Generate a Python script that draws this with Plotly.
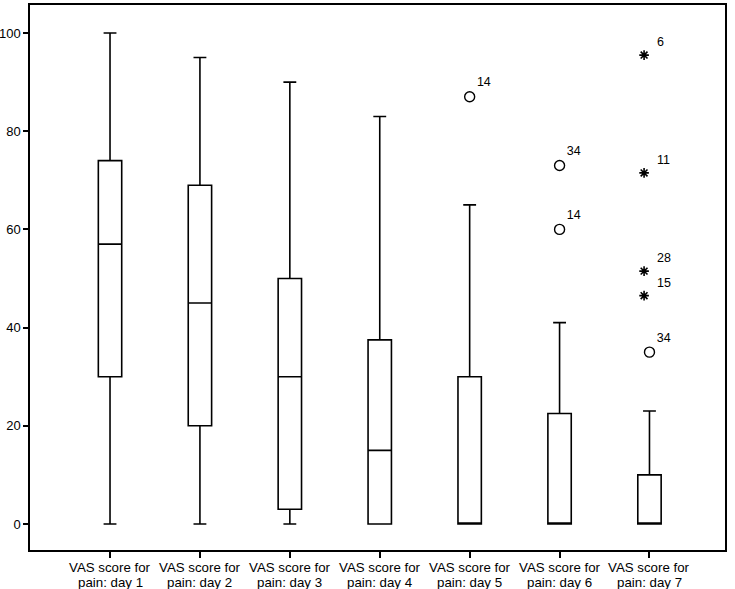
import plotly.graph_objects as go

# box summary per day
day_line1 = ["VAS score for"] * 7
day_line2 = ["pain: day 1", "pain: day 2", "pain: day 3", "pain: day 4",
             "pain: day 5", "pain: day 6", "pain: day 7"]
lower = [0, 0, 0, 0, 0, 0, 0]
q1 = [30, 20, 3, 0, 0, 0, 0]
median = [57, 45, 30, 15, 0, 0, 0]
q3 = [74, 69, 50, 37.5, 30, 22.5, 10]
upper = [100, 95, 90, 83, 65, 41, 23]

# outliers (circles) and extremes (asterisks): day index, value, case id
out_day = [4, 5, 5, 6]
out_val = [87, 73, 60, 35]
out_id = ["14", "34", "14", "34"]
ext_day = [6, 6, 6, 6]
ext_val = [95.5, 71.5, 51.5, 46.5]
ext_id = ["6", "11", "28", "15"]

fig = go.Figure()

for i in range(len(day_line2)):
    fig.add_trace(go.Box(
        x=[i], q1=[q1[i]], median=[median[i]], q3=[q3[i]],
        lowerfence=[lower[i]], upperfence=[upper[i]],
        width=0.26, whiskerwidth=0.55, boxpoints=False,
        fillcolor="white", line=dict(color="black", width=1.6),
        showlegend=False, hoverinfo="skip",
    ))

fig.add_trace(go.Scatter(
    x=out_day, y=out_val, mode="markers+text", text=out_id,
    textposition="top right", textfont=dict(size=12.5, color="black"),
    marker=dict(symbol="circle-open", size=10, color="black", line=dict(width=1.4)),
    showlegend=False,
))
fig.add_trace(go.Scatter(
    x=[d - 0.06 for d in ext_day], y=ext_val, mode="markers+text", text=["  " + t for t in ext_id],
    textposition="top right", textfont=dict(size=12.5, color="black"),
    marker=dict(symbol="asterisk-open", size=8, color="black", line=dict(width=1.6, color="black")),
    showlegend=False,
))

axis_font = dict(family="Liberation Sans, Arial, sans-serif", size=13, color="black")

# two-line category labels, placed as annotations for tighter line spacing
for i in range(len(day_line2)):
    fig.add_annotation(x=i, y=0, xref="x", yref="paper", yshift=-17, text=day_line1[i],
                       showarrow=False, font=dict(axis_font, size=13.3), yanchor="middle")
    fig.add_annotation(x=i, y=0, xref="x", yref="paper", yshift=-32, text=day_line2[i],
                       showarrow=False, font=dict(axis_font, size=13.3), yanchor="middle")

fig.update_layout(
    width=735, height=589,
    margin=dict(l=30, r=10, t=5, b=39, autoexpand=False),
    paper_bgcolor="white", plot_bgcolor="white",
    font=axis_font,
    xaxis=dict(
        range=[-0.89, 6.84], tickmode="array", tickvals=list(range(len(day_line2))),
        ticktext=[""] * len(day_line2), automargin=False,
        showgrid=False, zeroline=False, showline=True, linecolor="black", linewidth=1.5,
        mirror=True, ticks="outside", ticklen=6, tickcolor="black", tickwidth=1.5,
    ),
    yaxis=dict(
        range=[-5.3, 105.7], tickvals=[0, 20, 40, 60, 80, 100], automargin=False,
        showgrid=False, zeroline=False, showline=True, linecolor="black", linewidth=1.5,
        mirror=True, ticks="outside", ticklen=5, tickcolor="black", tickwidth=1.5,
        tickfont=axis_font,
    ),
)

# drop the page's default body margin so the figure sits at the window corner
fig.write_html("out.html", config={"displayModeBar": False},
               post_script="document.body.style.margin='0';")
